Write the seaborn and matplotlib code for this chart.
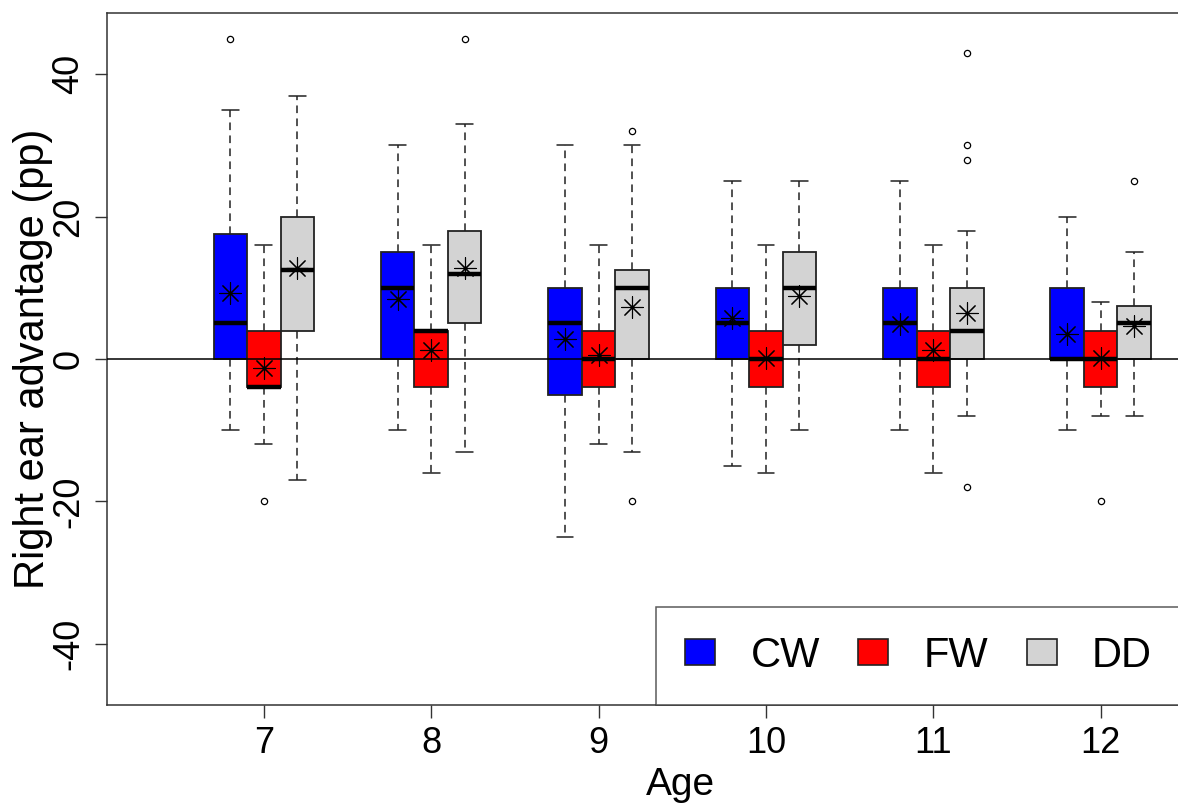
import numpy as np
import pandas as pd
import matplotlib
matplotlib.use("Agg")
import matplotlib.pyplot as plt
from matplotlib.patches import Patch
import seaborn as sns

# ---------------- data ----------------
ages = [7, 8, 9, 10, 11, 12]
groups = ["CW", "FW", "DD"]

cw_whislo = [-10, -10, -25, -15, -10, -10]
cw_q1 = [0, 0, -5, 0, 0, 0]
cw_med = [5, 10, 5, 5, 5, 0]
cw_q3 = [17.5, 15, 10, 10, 10, 10]
cw_whishi = [35, 30, 30, 25, 25, 20]
cw_mean = [9.3, 8.4, 2.8, 5.7, 4.9, 3.5]
cw_fliers = [[45], [], [], [], [], []]

fw_whislo = [-12, -16, -12, -16, -16, -8]
fw_q1 = [-4, -4, -4, -4, -4, -4]
fw_med = [-4, 4, 0, 0, 0, 0]
fw_q3 = [4, 4, 4, 4, 4, 4]
fw_whishi = [16, 16, 16, 16, 16, 8]
fw_mean = [-1.3, 1.2, 0.6, 0.2, 1.2, 0.1]
fw_fliers = [[-20], [], [], [], [], [-20]]

dd_whislo = [-17, -13, -13, -10, -8, -8]
dd_q1 = [4, 5, 0, 2, 0, 0]
dd_med = [12.5, 12, 10, 10, 4, 5]
dd_q3 = [20, 18, 12.5, 15, 10, 7.5]
dd_whishi = [37, 33, 30, 25, 18, 15]
dd_mean = [12.8, 12.8, 7.3, 8.8, 6.5, 4.6]
dd_fliers = [[], [45], [32, -20], [], [43, 30, 28, -18], [25]]

ytick_vals = [-40, -20, 0, 20, 40]

# ---------------- style ----------------
sns.set_theme(style="white")
plt.rcParams["font.family"] = ["Liberation Sans", "DejaVu Sans"]
plt.rcParams["text.color"] = "black"
plt.rcParams["axes.labelcolor"] = "black"
plt.rcParams["xtick.color"] = "black"
plt.rcParams["ytick.color"] = "black"

colors = {"CW": "#0000FF", "FW": "#FF0000", "DD": "#D3D3D3"}
offsets = {"CW": -0.2, "FW": 0.0, "DD": 0.2}

series = {
    "CW": (cw_whislo, cw_q1, cw_med, cw_q3, cw_whishi, cw_mean, cw_fliers),
    "FW": (fw_whislo, fw_q1, fw_med, fw_q3, fw_whishi, fw_mean, fw_fliers),
    "DD": (dd_whislo, dd_q1, dd_med, dd_q3, dd_whishi, dd_mean, dd_fliers),
}

fig = plt.figure(figsize=(11.78, 8.05), dpi=100)
ax = fig.add_axes([107 / 1178, 1 - 705 / 805, (1181 - 107) / 1178, (705 - 13) / 805])

rows = []
for g in groups:
    wl, q1, md, q3, wh, mn, fl = series[g]
    stats = []
    pos = []
    for i, a in enumerate(ages):
        stats.append(dict(whislo=wl[i], q1=q1[i], med=md[i], q3=q3[i],
                          whishi=wh[i], fliers=np.array(fl[i], dtype=float)))
        pos.append(a + offsets[g])
        rows.append({"pos": a + offsets[g], "mean": mn[i], "group": g})
    ax.bxp(stats, positions=pos, widths=0.2, patch_artist=True,
           showfliers=True, manage_ticks=False,
           boxprops=dict(facecolor=colors[g], edgecolor="#222222", linewidth=1.3),
           medianprops=dict(color="black", linewidth=3.2, solid_capstyle="butt"),
           whiskerprops=dict(color="#222222", linewidth=1.1, linestyle=(0, (5, 3.5))),
           capprops=dict(color="#222222", linewidth=1.1),
           flierprops=dict(marker="o", markersize=4.5, markerfacecolor="none",
                           markeredgecolor="black", markeredgewidth=0.9))

ax.axhline(0, color="black", linewidth=1.1, zorder=4)

df = pd.DataFrame(rows)
sns.scatterplot(data=df, x="pos", y="mean", marker=(8, 2, 0), s=240,
                color="black", edgecolor="black", linewidth=0.8, zorder=5,
                legend=False, ax=ax)

ax.set_xlim(6.063, 12.48)
ax.set_ylim(-48.6, 48.6)
ax.set_xticks(ages)
ax.set_xticklabels([str(a) for a in ages], fontsize=26)
ax.set_yticks(ytick_vals)
ax.set_yticklabels([str(v) for v in ytick_vals], fontsize=26, rotation=90, va="center")
ax.tick_params(axis="both", direction="out", length=9, width=1, color="#333333",
               bottom=True, left=True, pad=6)
ax.set_xlabel("")
ax.set_ylabel("Right ear advantage (pp)", fontsize=30)
ax.yaxis.set_label_coords((53 - 107) / (1181 - 107), 0.5)
fig.text(680 / 1178, 1 - 785 / 805, "Age", fontsize=28, ha="center", va="center")

for side in ["left", "top", "bottom", "right"]:
    ax.spines[side].set_visible(True)
    ax.spines[side].set_color("#333333")
    ax.spines[side].set_linewidth(1.1)

handles = [Patch(facecolor=colors[g], edgecolor="#222222", linewidth=1.2, label=g) for g in groups]
leg = ax.legend(handles=handles, loc="lower left", ncol=3,
                bbox_to_anchor=((656 - 107) / (1181 - 107), 0.0),
                borderaxespad=0, fontsize=30, frameon=True, fancybox=False,
                edgecolor="#333333", handlelength=0.72, handleheight=0.6,
                handletextpad=0.85, columnspacing=0.92, borderpad=0.7)
leg.get_frame().set_linewidth(1.1)
leg.set_zorder(10)

fig.savefig("out.png", dpi=100)
